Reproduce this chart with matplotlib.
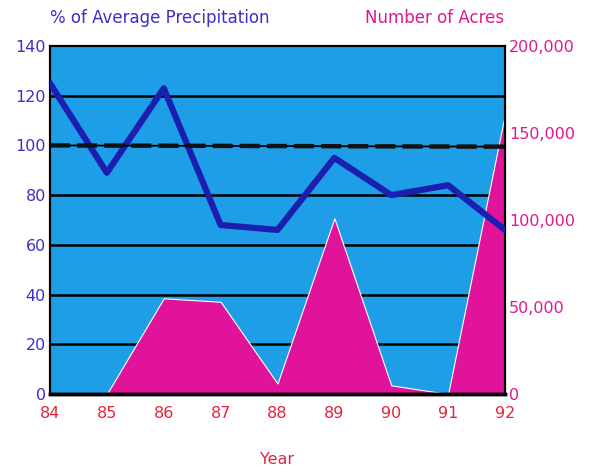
import matplotlib
matplotlib.use("Agg")
import matplotlib.pyplot as plt
import numpy as np

years = [84, 85, 86, 87, 88, 89, 90, 91, 92]
year_labels = ["84", "85", "86", "87", "88", "89", "90", "91", "92"]
precip_pct = [125, 89, 123, 68, 66, 95, 80, 84, 66]
acres = [0, 0, 55000, 53000, 6000, 101000, 5000, 0, 161000]
average_pct = [100, 99.5]  # average reference at the start and end of the period
left_ticks = [0, 20, 40, 60, 80, 100, 120, 140]
grid_pct = [20, 40, 60, 80, 120]
right_ticks = [0, 50000, 100000, 150000, 200000]
right_labels = ["0", "50,000", "100,000", "150,000", "200,000"]

BG = "#1f9ee8"
PINK = "#e0139a"
LINE = "#1a1fb0"
LEFT_TXT = "#3a2fc8"
RIGHT_TXT = "#e0188e"
X_TXT = "#e3253c"

PCT_MAX = 140
ACRES_MAX = 200000

plt.rcParams["font.family"] = ["DejaVu Sans"]

fig = plt.figure(figsize=(5.92, 4.76), dpi=100)
ax = fig.add_axes([50 / 592, 1 - 394 / 476, 455 / 592, 348 / 476])
ax.set_xlim(84, 92)
ax.set_ylim(0, PCT_MAX)

ax2 = ax.twinx()
ax2.set_ylim(0, ACRES_MAX)

# blue background and gridlines live on the acreage axes so the area covers them
ax2.patch.set_visible(True)
ax2.patch.set_facecolor(BG)
for v in grid_pct:
    ax2.axhline(v / PCT_MAX * ACRES_MAX, color="black", lw=1.8, zorder=1)
ax2.fill_between(years, acres, 0, color=PINK, edgecolor="white", lw=0.8, zorder=2)
ax2.set_yticks(right_ticks)
ax2.set_yticklabels(right_labels, color=RIGHT_TXT, fontsize=11.5)
ax2.tick_params(axis="y", length=0, pad=3)

# precipitation line drawn above the acreage area, dashed average on top
ax.set_zorder(ax2.get_zorder() + 1)
ax.patch.set_visible(False)

ax.plot(years, precip_pct, color=LINE, lw=4.5, solid_joinstyle="round", zorder=3)
ax.plot([84, 92], average_pct, color="black", lw=1.3, zorder=4)
ax.plot([84, 92], average_pct, color="#111111", lw=3.2, ls=(0, (4.5, 1.6)), zorder=5)

ax.set_yticks(left_ticks)
ax.set_yticklabels([str(t) for t in left_ticks], color=LEFT_TXT, fontsize=11.5)
ax.set_xticks(years)
ax.set_xticklabels(year_labels, color=X_TXT, fontsize=11.5)
ax.tick_params(axis="y", length=0, pad=3)
ax.tick_params(axis="x", length=0, pad=9)
ax.set_xlabel("Year", color=X_TXT, fontsize=11.5, labelpad=22)

for a in (ax, ax2):
    for s in a.spines.values():
        s.set_color("black")
        s.set_linewidth(1.5)
    a.spines["bottom"].set_linewidth(2.5)

fig.text(160 / 592, 1 - 18 / 476, "% of Average Precipitation", color=LEFT_TXT,
         fontsize=12, ha="center", va="center")
fig.text(435 / 592, 1 - 18 / 476, "Number of Acres", color=RIGHT_TXT,
         fontsize=12, ha="center", va="center")

fig.savefig("out.png", dpi=100, facecolor="white")
